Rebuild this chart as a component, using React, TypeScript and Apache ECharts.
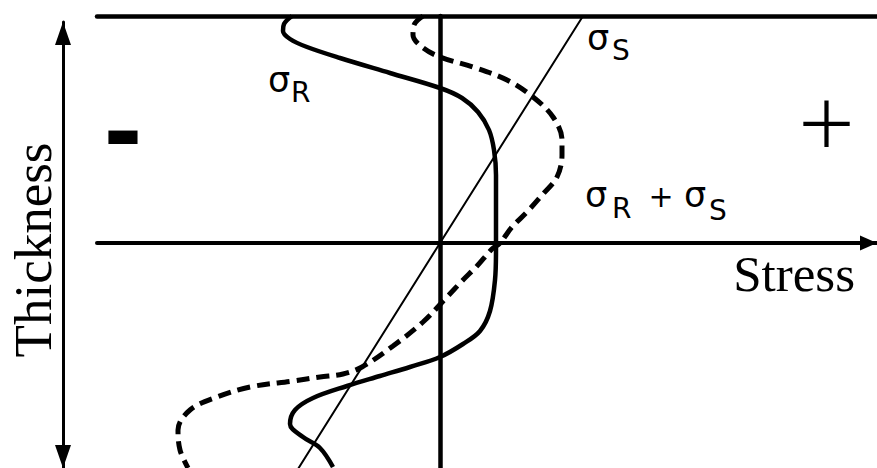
import React, { useEffect, useRef } from 'react';
import * as echarts from 'echarts';

// Stress (horizontal, 0 = neutral) against position through the thickness
// (vertical, 0 = mid-plane). Units are arbitrary.
const stressMin = -34.3;
const stressMax = 43.7;
const thicknessMin = -22.5;
const thicknessMax = 22.7;

// σS : linear applied stress through the thickness
const sigmaSStress = [14.3, 0, -14.2];
const sigmaSThickness = [22.7, 0, -22.6];

// σR : residual stress profile
const sigmaRStress = [
  -14.8, -15.6, -15.7, -15.0, -13.3, -10.0, -5.0, 0.0, 2.2, 3.8, 4.9, 5.4, 5.6, 5.6, 5.6,
  5.5, 5.0, 4.0, 2.3, 0.0, -3.0, -6.0, -9.3, -12.7, -14.5, -15.0, -13.7, -12.0, -10.7,
];
const sigmaRThickness = [
  22.7, 21.9, 21.2, 20.4, 19.6, 18.5, 17.0, 15.5, 14.5, 13.1, 11.3, 9.3, 6.8, 3.3, -0.7,
  -3.7, -6.8, -8.8, -10.1, -11.4, -12.4, -13.3, -14.3, -15.5, -16.7, -18.1, -19.4, -20.5, -22.4,
];

// σR + σS : combined stress profile
const sumStress = [
  -1.7, -2.6, -2.7, -1.8, 0.0, 3.3, 6.7, 9.3, 11.3, 12.2, 12.2, 11.7, 10.3, 8.7, 7.2, 6.0,
  5.2, 3.7, 2.2, 0.7, -1.7, -4.7, -7.8, -9.7, -12.0, -14.7, -19.0, -22.3, -25.0, -26.2,
  -26.0, -25.2,
];
const sumThickness = [
  22.7, 21.8, 20.8, 19.6, 18.6, 17.6, 16.3, 14.6, 12.6, 10.3, 8.8, 6.6, 4.9, 3.1, 1.6, 0.0,
  -0.6, -2.3, -3.8, -5.4, -7.9, -10.3, -12.4, -13.1, -13.4, -13.8, -14.4, -15.4, -16.7, -18.7,
  -20.7, -22.5,
];

const pairs = (xs: number[], ys: number[]) => xs.map((x, i) => [x, ys[i]]);

const SANS = '"DejaVu Sans", "Open Sans", sans-serif';
const SERIF = '"Liberation Serif", "DejaVu Serif", serif';

// a symbol or subscript letter, placed by its left edge and baseline
const symbolText = (x: number, baseline: number, text: string, size: number) => ({
  type: 'text',
  x,
  y: baseline - 0.346 * size,
  silent: true,
  style: {
    text,
    fill: '#000',
    fontFamily: SANS,
    fontSize: size,
    textAlign: 'left',
    align: 'left',
    textVerticalAlign: 'middle',
    verticalAlign: 'middle',
  },
});

export default function App() {
  const ref = useRef<HTMLDivElement>(null);

  useEffect(() => {
    document.body.style.margin = '0';
    if (!ref.current) return;
    const chart = echarts.init(ref.current, undefined, { renderer: 'svg' });

    const option: any = {
      animation: false,
      backgroundColor: '#fff',
      grid: [
        { left: 97, right: 0, top: 16, bottom: 0 },
        { left: 63, width: 10, top: 22, bottom: -4 },
      ],
      xAxis: [
        {
          type: 'value',
          gridIndex: 0,
          min: stressMin,
          max: stressMax,
          name: 'Stress',
          nameLocation: 'end',
          nameGap: -22,
          nameTextStyle: {
            fontFamily: SERIF,
            fontSize: 51,
            color: '#000',
            align: 'right',
            verticalAlign: 'top',
            padding: [5, 0, 0, 0],
          },
          axisLine: {
            show: true,
            onZero: true,
            symbol: ['none', 'triangle'],
            symbolSize: [15, 17],
            symbolOffset: [0, -8.5],
            lineStyle: { color: '#000', width: 4 },
          },
          axisTick: { show: false },
          axisLabel: { show: false },
          splitLine: { show: false },
        },
        {
          type: 'value',
          gridIndex: 0,
          position: 'top',
          min: stressMin,
          max: stressMax,
          axisLine: { show: true, onZero: false, lineStyle: { color: '#000', width: 4.5 } },
          axisTick: { show: false },
          axisLabel: { show: false },
          splitLine: { show: false },
        },
        {
          type: 'value',
          gridIndex: 1,
          show: false,
        },
      ],
      yAxis: [
        {
          type: 'value',
          gridIndex: 0,
          min: thicknessMin,
          max: thicknessMax,
          axisLine: { show: true, onZero: true, lineStyle: { color: '#000', width: 4.5 } },
          axisTick: { show: false },
          axisLabel: { show: false },
          splitLine: { show: false },
        },
        {
          type: 'value',
          gridIndex: 1,
          position: 'left',
          min: 0,
          max: 1,
          name: 'Thickness',
          nameLocation: 'middle',
          nameRotate: 90,
          nameGap: 4,
          nameTextStyle: {
            fontFamily: SERIF,
            fontSize: 53,
            color: '#000',
            padding: [0, 10, 0, 0],
          },
          axisLine: {
            show: true,
            onZero: false,
            symbol: ['triangle', 'triangle'],
            symbolSize: [16, 23],
            symbolOffset: [11.5, -11.5],
            lineStyle: { color: '#000', width: 3 },
          },
          axisTick: { show: false },
          axisLabel: { show: false },
          splitLine: { show: false },
        },
      ],
      series: [
        {
          name: 'σS',
          type: 'line',
          xAxisIndex: 0,
          yAxisIndex: 0,
          data: pairs(sigmaSStress, sigmaSThickness),
          showSymbol: false,
          silent: true,
          lineStyle: { color: '#000', width: 2 },
        },
        {
          name: 'σR',
          type: 'line',
          xAxisIndex: 0,
          yAxisIndex: 0,
          data: pairs(sigmaRStress, sigmaRThickness),
          smooth: 0.35,
          showSymbol: false,
          silent: true,
          lineStyle: { color: '#000', width: 4.5 },
        },
        {
          name: 'σR + σS',
          type: 'line',
          xAxisIndex: 0,
          yAxisIndex: 0,
          data: pairs(sumStress, sumThickness),
          smooth: 0.35,
          showSymbol: false,
          silent: true,
          lineStyle: { color: '#000', width: 5, type: [13, 7], cap: 'butt' },
        },
      ],
      graphic: [
        // σR
        symbolText(268, 92, 'σ', 35),
        symbolText(291, 102, 'R', 28),
        // σS
        symbolText(587, 50, 'σ', 35),
        symbolText(612, 60, 'S', 28),
        // σR + σS
        symbolText(585, 207, 'σ', 35),
        symbolText(612, 218, 'R', 28),
        {
          type: 'text',
          x: 661,
          y: 209 - 0.346 * 36,
          silent: true,
          style: {
            text: '+',
            fill: '#000',
            fontFamily: SANS,
            fontSize: 30,
            textAlign: 'center',
            align: 'center',
            textVerticalAlign: 'middle',
            verticalAlign: 'middle',
          },
        },
        symbolText(684, 207, 'σ', 35),
        symbolText(709, 220, 'S', 28),
        // sign conventions
        {
          type: 'text',
          x: 826.5,
          y: 119.5,
          silent: true,
          style: {
            text: '+',
            fill: '#000',
            fontFamily: '"Open Sans", sans-serif',
            fontWeight: 300,
            fontSize: 100,
            textAlign: 'center',
            align: 'center',
            textVerticalAlign: 'middle',
            verticalAlign: 'middle',
          },
        },
        {
          type: 'text',
          x: 123,
          y: 131.5,
          silent: true,
          style: {
            text: '-',
            fill: '#000',
            fontFamily: '"DejaVu Sans", sans-serif',
            fontWeight: 'bold',
            fontSize: 95,
            textAlign: 'center',
            align: 'center',
            textVerticalAlign: 'middle',
            verticalAlign: 'middle',
          },
        },
      ],
    };

    chart.setOption(option);
    return () => chart.dispose();
  }, []);

  return (
    <div
      ref={ref}
      style={{ position: 'absolute', left: 0, top: 0, width: 877, height: 468 }}
    />
  );
}
